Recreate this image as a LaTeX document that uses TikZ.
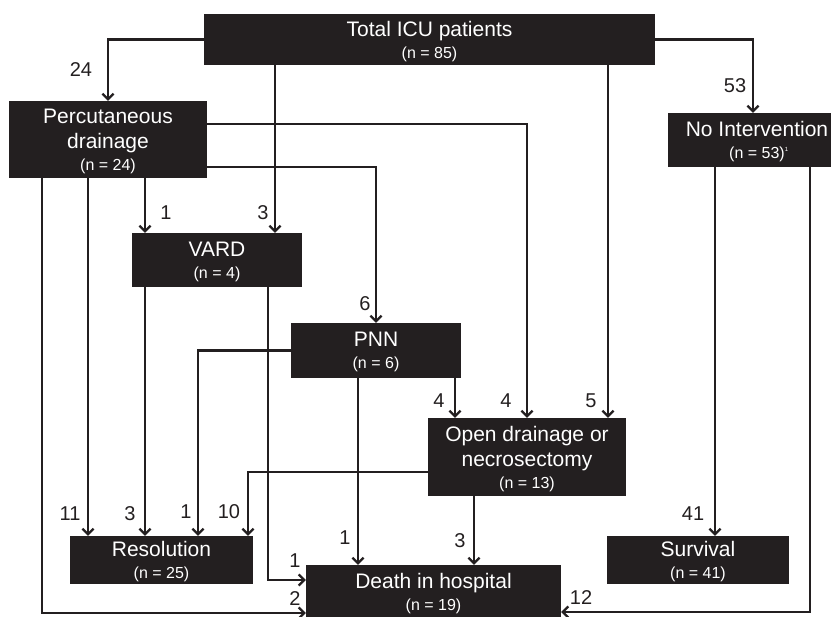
\documentclass[tikz,border=0pt]{standalone}
\usepackage{fontspec}
\setmainfont{Liberation Sans}
\usetikzlibrary{arrows.meta}
\definecolor{ink}{HTML}{231F20}
\newcommand{\cnt}[1]{\\[-3pt]{\fontsize{16}{18}\selectfont(n = #1)}}

\begin{document}
\begin{tikzpicture}[x=1pt, y=-1pt,
    box/.style={fill=ink, text=white, inner sep=0pt, align=center,
        font=\fontsize{21}{25}\selectfont, text depth=-4.6pt},
    lab/.style={text=ink, inner sep=0pt, font=\fontsize{20}{22}\selectfont},
    arr/.style={draw=ink, line width=2.2pt, -{Straight Barb[length=5.5pt, width=11pt, line width=2.2pt]}}]
    \useasboundingbox (0,0) rectangle (831,617);
    \clip (0,0) rectangle (831,617);
    \node[box, minimum width=451, minimum height=51] (total) at (429.5,39.5) {Total ICU patients\cnt{85}};
    \node[box, minimum width=198, minimum height=77] (perc) at (108,139.5) {Percutaneous\\drainage\cnt{24}};
    \node[box, minimum width=170, minimum height=54] (vard) at (217,260) {VARD\cnt{4}};
    \node[box, minimum width=178, minimum height=54] (noint) at (757,140) {No Intervention\cnt{53}\rlap{\textsuperscript{\fontsize{6}{6}\selectfont 1}}};
    \node[box, minimum width=170, minimum height=55] (pnn) at (376,350.5) {PNN\cnt{6}};
    \node[box, minimum width=198, minimum height=78] (open) at (527,457) {Open drainage or\\necrosectomy\cnt{13}};
    \node[box, minimum width=183, minimum height=48] (res) at (161.5,560) {Resolution\cnt{25}};
    \node[box, minimum width=255, minimum height=54] (death) at (433.5,592) {Death in hospital\cnt{19}};
    \node[box, minimum width=182, minimum height=48] (surv) at (698,560) {Survival\cnt{41}};

    \draw[arr] (total.west) -| (perc.north);
    \draw[arr] (275,0 |- total.south) -- (275,0 |- vard.north);
    \draw[arr] (608,0 |- total.south) -- (608,0 |- open.north);
    \draw[arr] (total.east) -| (753,0 |- noint.north);
    \draw[arr] (perc.east |- 0,124) -| (open.north);
    \draw[arr] (perc.east |- 0,167) -| (pnn.north);
    \draw[arr] (145,0 |- perc.south) -- (145,0 |- vard.north);
    \draw[arr] (88,0 |- perc.south) -- (88,0 |- res.north);
    \draw[arr] (42,0 |- perc.south) |- (death.west |- 0,613);
    \draw[arr] (145,0 |- vard.south) -- (145,0 |- res.north);
    \draw[arr] (268,0 |- vard.south) |- (death.west |- 0,580);
    \draw[arr] (pnn.west) -| (198,0 |- res.north);
    \draw[arr] (358,0 |- pnn.south) -- (358,0 |- death.north);
    \draw[arr] (455,0 |- pnn.south) -- (455,0 |- open.north);
    \draw[arr] (open.west |- 0,472) -| (248,0 |- res.north);
    \draw[arr] (474,0 |- open.south) -- (474,0 |- death.north);
    \draw[arr] (715,0 |- noint.south) -- (715,0 |- surv.north);
    \draw[arr] (810,0 |- noint.south) |- (death.east |- 0,612);

    \node[lab] (l24) at (81,70) {24};
    \node[lab] (l3a) at (263,213) {3};
    \node[lab] (l1a) at (166,213) {1};
    \node[lab] (l6) at (365,304) {6};
    \node[lab] (l53) at (735,86) {53};
    \node[lab] (l11) at (70,514) {11};
    \node[lab] (l3b) at (130,514) {3};
    \node[lab] (l1b) at (186,512) {1};
    \node[lab] (l10) at (229,512) {10};
    \node[lab] (l1c) at (345,538) {1};
    \node[lab] (l1d) at (295,561) {1};
    \node[lab] (l2) at (295,599) {2};
    \node[lab] (l4a) at (439,401) {4};
    \node[lab] (l4b) at (506,401) {4};
    \node[lab] (l5) at (591,401) {5};
    \node[lab] (l3c) at (460,541) {3};
    \node[lab] (l41) at (693,514) {41};
    \node[lab] (l12) at (581,598) {12};
\end{tikzpicture}
\end{document}
